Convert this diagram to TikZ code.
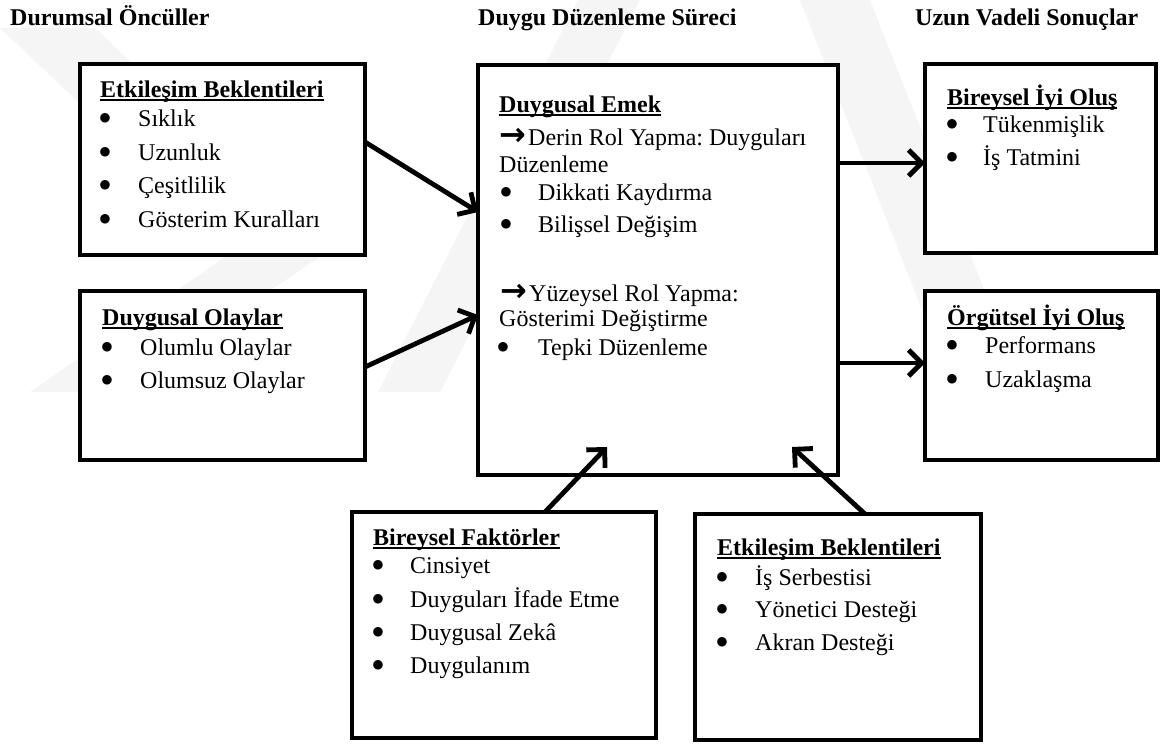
\documentclass[tikz,border=0pt]{standalone}
\usepackage{fontspec}
\setmainfont{Liberation Serif}
\newfontfamily\arrowfont{DejaVu Sans}
\usetikzlibrary{arrows.meta,calc}
\newcommand\ulin[1]{\setbox0\hbox{#1}\rlap{\vrule height -1.6pt depth 3.6pt width \wd0}\box0}
\tikzset{
  box/.style={draw, line width=4.5pt, fill=white, rectangle, inner sep=0pt, outer sep=0pt},
  tx/.style={anchor=base west, inner sep=0pt, font=\fontsize{24}{28}\selectfont\frenchspacing},
  tb/.style={tx, font=\fontsize{24}{28}\selectfont\bfseries},
  bul/.style={anchor=base, inner sep=0pt, yshift=4.5pt, font=\fontsize{12.5}{12.5}\selectfont\arrowfont},
  arw/.style={anchor=base west, inner sep=0pt, font=\fontsize{32}{32}\selectfont\arrowfont\bfseries},
  conn/.style={line width=4.8pt, -{Straight Barb[length=13pt,width=26pt]}},
  wm/.style={fill=black!4, draw=none},
}
\begin{document}
\begin{tikzpicture}[x=1pt,y=-1pt]
\useasboundingbox (0,0) rectangle (1164,747);
% faint watermark
\fill[wm] (0,28) -- (95,28) -- (330,250) -- (235,250) -- cycle;
\fill[wm] (235,250) -- (330,250) -- (120,392) -- (30,392) -- cycle;
\fill[wm] (378,392) -- (440,392) -- (640,0) -- (578,0) -- cycle;
\fill[wm] (800,0) -- (870,0) -- (1000,330) -- (930,330) -- cycle;
% titles
\node[tb] (h1) at (10,25) {Durumsal Öncüller};
\node[tb] (h2) at (478,25) {Duygu Düzenleme Süreci};
\node[tb] (h3) at (915,25) {Uzun Vadeli Sonuçlar};
% boxes
\node[box, minimum width=285pt, minimum height=191pt] (b1) at (222.5,159.5) {};
\node[box, minimum width=285pt, minimum height=169pt] (b2) at (222.5,375.5) {};
\node[box, minimum width=360pt, minimum height=410pt] (c) at (658,270) {};
\node[box, minimum width=231pt, minimum height=189pt] (r1) at (1040.5,158.5) {};
\node[box, minimum width=233pt, minimum height=169pt] (r2) at (1041.5,375.5) {};
\node[box, minimum width=304pt, minimum height=226pt] (d1) at (504,625) {};
\node[box, minimum width=286pt, minimum height=226pt] (d2) at (838,627) {};
% connectors
\coordinate (t5) at ([xshift=-51pt,yshift=28pt]c.south);
\coordinate (t6) at ([xshift=134pt,yshift=28pt]c.south);
\draw[conn] ([yshift=17.5pt]b1.east) -- ([yshift=58pt]c.west);
\draw[conn] ([yshift=8.5pt]b2.east) -- ([yshift=-45pt]c.west);
\draw[conn] ([yshift=107pt]c.east) -- ([yshift=-4.5pt]r1.west);
\draw[conn] ([yshift=-93pt]c.east) -- ([yshift=12.5pt]r2.west);
\draw[conn] ([xshift=41pt]d1.north) -- (t5);
\draw[conn] ([xshift=27pt]d2.north) -- (t6);
% box 1
\node[tb] (b1h) at (100,97) {\ulin{Etkileşim Beklentileri}};
\node[bul] (b1p1) at (105,126) {●}; \node[tx] (b1i1) at (138,126) {Sıklık};
\node[bul] (b1p2) at (105,160) {●}; \node[tx] (b1i2) at (138,160) {Uzunluk};
\node[bul] (b1p3) at (105,193) {●}; \node[tx] (b1i3) at (138,193) {Çeşitlilik};
\node[bul] (b1p4) at (105,227) {●}; \node[tx] (b1i4) at (138,227) {Gösterim Kuralları};
% box 2
\node[tb] (b2h) at (102,325) {\ulin{Duygusal Olaylar}};
\node[bul] (b2p1) at (107,355) {●}; \node[tx] (b2i1) at (140,355) {Olumlu Olaylar};
\node[bul] (b2p2) at (107,388) {●}; \node[tx] (b2i2) at (140,388) {Olumsuz Olaylar};
% centre
\node[tb] (ch) at (499,112) {\ulin{Duygusal Emek}};
\node[arw] (ca1) at (499,145) {→}; \node[tx] (cl1) at (528,145) {Derin Rol Yapma: Duyguları};
\node[tx] (cl2) at (499,172) {Düzenleme};
\node[bul] (cp1) at (506,200) {●}; \node[tx] (ci1) at (538,200) {Dikkati Kaydırma};
\node[bul] (cp2) at (506,232) {●}; \node[tx] (ci2) at (538,232) {Bilişsel Değişim};
\node[arw] (ca2) at (500,301) {→}; \node[tx] (cl3) at (529,301) {Yüzeysel Rol Yapma:};
\node[tx] (cl4) at (499,326) {Gösterimi Değiştirme};
\node[bul] (cp3) at (503,355) {●}; \node[tx] (ci3) at (538,355) {Tepki Düzenleme};
% right 1
\node[tb] (r1h) at (947,105) {\ulin{Bireysel İyi Oluş}};
\node[bul] (r1p1) at (952,132) {●}; \node[tx] (r1i1) at (983,132) {Tükenmişlik};
\node[bul] (r1p2) at (952,165) {●}; \node[tx] (r1i2) at (983,165) {İş Tatmini};
% right 2
\node[tb] (r2h) at (947,325) {\ulin{Örgütsel İyi Oluş}};
\node[bul] (r2p1) at (952,353) {●}; \node[tx] (r2i1) at (985,353) {Performans};
\node[bul] (r2p2) at (952,387) {●}; \node[tx] (r2i2) at (985,387) {Uzaklaşma};
% bottom 1
\node[tb] (d1h) at (373,545) {\ulin{Bireysel Faktörler}};
\node[bul] (d1p1) at (378,573) {●}; \node[tx] (d1i1) at (410,573) {Cinsiyet};
\node[bul] (d1p2) at (378,607) {●}; \node[tx] (d1i2) at (410,607) {Duyguları İfade Etme};
\node[bul] (d1p3) at (378,640) {●}; \node[tx] (d1i3) at (410,640) {Duygusal Zekâ};
\node[bul] (d1p4) at (378,673) {●}; \node[tx] (d1i4) at (410,673) {Duygulanım};
% bottom 2
\node[tb] (d2h) at (717,555) {\ulin{Etkileşim Beklentileri}};
\node[bul] (d2p1) at (722,585) {●}; \node[tx] (d2i1) at (755,585) {İş Serbestisi};
\node[bul] (d2p2) at (722,617) {●}; \node[tx] (d2i2) at (755,617) {Yönetici Desteği};
\node[bul] (d2p3) at (722,650) {●}; \node[tx] (d2i3) at (755,650) {Akran Desteği};
\end{tikzpicture}
\end{document}
